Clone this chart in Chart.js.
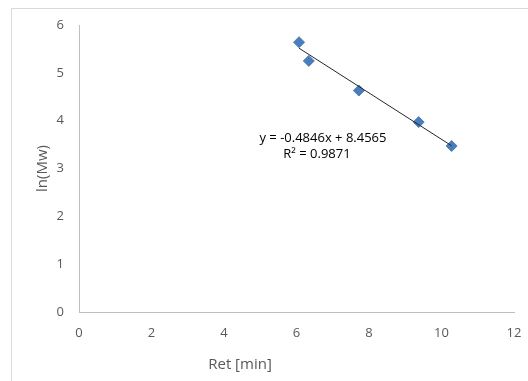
<!DOCTYPE html>
<html>
<head>
<meta charset="utf-8">
<script src="https://cdn.jsdelivr.net/npm/chart.js@4"></script>
<style>
  html, body { margin: 0; padding: 0; background: #fff; overflow: hidden; }
  #wrap { position: relative; width: 528px; height: 381px; }
  #frame { position: absolute; left: 11px; top: 8px; width: 600px; height: 500px; border: 1px solid #d9d9d9; box-sizing: border-box; }
  #lnChart { position: absolute; left: 0; top: 0; }
</style>
</head>
<body>
<div id="wrap">
  <div id="frame"></div>
  <canvas id="lnChart" width="528" height="381"></canvas>
</div>
<script>
// retention time [min] vs ln(Mw)
const retTime = [6.07, 6.34, 7.72, 9.37, 10.28];
const lnMw = [5.64, 5.25, 4.63, 3.97, 3.47];

// linear fit reported on the chart
const slope = -0.4846;
const intercept = 8.4565;
const rSquared = 0.9871;

const xTicks = [0, 2, 4, 6, 8, 10, 12];
const yTicks = [0, 1, 2, 3, 4, 5, 6];

document.addEventListener('DOMContentLoaded', () => {
    const ctx = document.getElementById('lnChart').getContext('2d');

    const pts = retTime.map((x, i) => ({ x: x, y: lnMw[i] }));
    const xFirst = Math.min(...retTime);
    const xLast = Math.max(...retTime);
    const trend = [xFirst, xLast].map(x => ({ x: x, y: slope * x + intercept }));

    const tickColor = '#595959';
    const baseFont = "'Open Sans', sans-serif";

    // equation + x axis title, drawn after the datasets
    const extraText = {
        id: 'extraText',
        afterDraw(chart) {
            const c = chart.ctx;
            const xs = chart.scales.x;
            const ys = chart.scales.y;
            c.save();
            c.fillStyle = '#000';
            c.font = "13px " + baseFont;
            c.textAlign = 'center';
            c.textBaseline = 'middle';
            const eqX = xs.getPixelForValue(6.73);
            const sign = intercept < 0 ? '-' : '+';
            c.fillText('y = ' + slope.toFixed(4) + 'x ' + sign + ' ' + Math.abs(intercept).toFixed(4), eqX, ys.getPixelForValue(3.64));
            c.fillText('R\u00b2 = ' + rSquared.toFixed(4), eqX - 6, ys.getPixelForValue(3.29));

            c.fillStyle = tickColor;
            c.font = "15px " + baseFont;
            c.fillText('Ret [min]', 240, 365);
            c.restore();
        }
    };

    new Chart(ctx, {
        type: 'scatter',
        data: {
            datasets: [
                {
                    type: 'line',
                    label: 'Linear',
                    data: trend,
                    borderColor: '#262626',
                    borderWidth: 1,
                    pointRadius: 0,
                    fill: false,
                    order: 0
                },
                {
                    label: 'ln(Mw)',
                    data: pts,
                    pointStyle: 'rectRot',
                    pointRadius: 5.5,
                    backgroundColor: '#4a7ebb',
                    borderColor: '#4a7ebb',
                    borderWidth: 1,
                    order: 1
                }
            ]
        },
        options: {
            responsive: false,
            animation: false,
            layout: { padding: { left: 11, right: 14, top: 25, bottom: 0 } },
            plugins: {
                legend: { display: false },
                tooltip: { enabled: false }
            },
            scales: {
                x: {
                    type: 'linear',
                    min: xTicks[0],
                    max: xTicks[xTicks.length - 1],
                    afterBuildTicks: s => { s.ticks = xTicks.map(v => ({ value: v })); },
                    afterFit: s => { s.height = 69; s.paddingLeft = 0; s.paddingRight = 0; },
                    grid: { display: false, drawTicks: false },
                    border: { display: true, color: '#bfbfbf', width: 1 },
                    ticks: { color: tickColor, padding: 13, font: { size: 13, family: baseFont } },
                    title: { display: false }
                },
                y: {
                    type: 'linear',
                    min: yTicks[0],
                    max: yTicks[yTicks.length - 1],
                    afterBuildTicks: s => { s.ticks = yTicks.map(v => ({ value: v })); },
                    afterFit: s => { s.width = 68; },
                    grid: { display: false, drawTicks: false },
                    border: { display: true, color: '#bfbfbf', width: 1 },
                    ticks: { color: tickColor, padding: 15, font: { size: 13, family: baseFont } },
                    title: {
                        display: true,
                        text: 'ln(Mw)',
                        color: tickColor,
                        font: { size: 15, family: baseFont },
                        padding: { top: 23, bottom: 0 }
                    }
                }
            }
        },
        plugins: [extraText]
    });
});
</script>
</body>
</html>
